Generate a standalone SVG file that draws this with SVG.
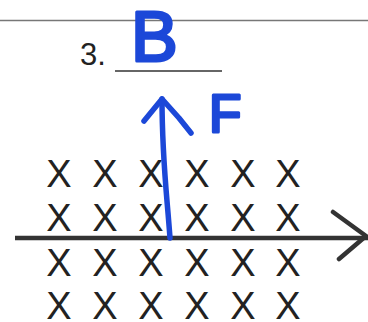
<svg xmlns="http://www.w3.org/2000/svg" width="368" height="322" viewBox="0 0 368 322">
<style>
.x{font-family:"Liberation Sans",Arial,sans-serif;font-size:38px;fill:#222;text-anchor:middle}
.num{font-family:"Liberation Sans",Arial,sans-serif;font-size:31px;fill:#222}
.blue{fill:#1c48d8;stroke:#1c48d8;stroke-width:3;stroke-linejoin:round;font-family:"Liberation Sans",Arial,sans-serif}
.bl{fill:none;stroke:#1c48d8;stroke-width:5.5;stroke-linecap:round;stroke-linejoin:round}
</style>
<rect width="368" height="322" fill="#fff"/>
<line x1="0" y1="20.5" x2="368" y2="20.5" stroke="#777" stroke-width="1.5"/>
<text class="num" x="80" y="65">3.</text>
<line x1="115" y1="71" x2="222" y2="71" stroke="#333" stroke-width="1.6"/>
<text class="blue" x="131" y="61" font-size="70">B</text>
<text class="blue" x="209" y="132" font-size="53">F</text>
<g id="grid">
<text class="x" x="59" y="187">X</text><text class="x" x="105" y="187">X</text><text class="x" x="151" y="187">X</text><text class="x" x="197" y="187">X</text><text class="x" x="243" y="187">X</text><text class="x" x="288" y="187">X</text>
<text class="x" x="59" y="231">X</text><text class="x" x="105" y="231">X</text><text class="x" x="151" y="231">X</text><text class="x" x="197" y="231">X</text><text class="x" x="243" y="231">X</text><text class="x" x="288" y="231">X</text>
<text class="x" x="59" y="276">X</text><text class="x" x="105" y="276">X</text><text class="x" x="151" y="276">X</text><text class="x" x="197" y="276">X</text><text class="x" x="243" y="276">X</text><text class="x" x="288" y="276">X</text>
<text class="x" x="59" y="319">X</text><text class="x" x="105" y="319">X</text><text class="x" x="151" y="319">X</text><text class="x" x="197" y="319">X</text><text class="x" x="243" y="319">X</text><text class="x" x="288" y="319">X</text>
</g>
<g id="connectors">
<line x1="15" y1="238" x2="368" y2="238" stroke="#333" stroke-width="4.5"/>
<path d="M333,212 L366,236 L339,259" fill="none" stroke="#333" stroke-width="4.5" stroke-linecap="round" stroke-linejoin="round"/>
<path class="bl" d="M170,238 C167,195 162,160 162,99"/>
<path class="bl" d="M144,121 L162,99 L179,118 L191,133"/>
</g>
</svg>
